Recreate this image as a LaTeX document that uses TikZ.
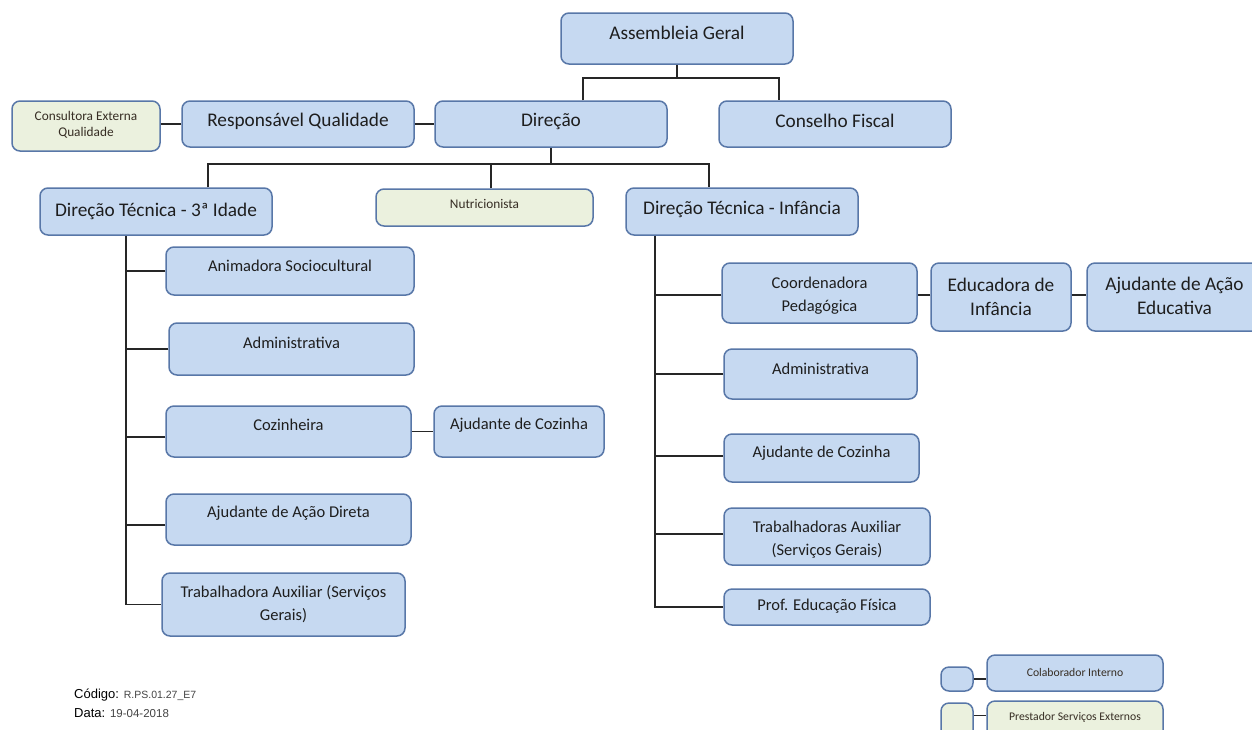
\documentclass[tikz,border=0pt]{standalone}
\usepackage{fontspec}
\setmainfont{Carlito}
\newfontfamily\footfont{Liberation Sans}
\usetikzlibrary{fit}

\definecolor{boxblue}{HTML}{C6D9F1}
\definecolor{boxgreen}{HTML}{EBF1DE}
\definecolor{boxedge}{HTML}{5877A8}
\definecolor{txtc}{HTML}{1E1E1E}
\definecolor{linec}{HTML}{262626}
\definecolor{footgray}{HTML}{444444}

\tikzset{
  orgbox/.style={draw=boxedge, fill=boxblue, line width=1.5pt, rounded corners=8pt, inner sep=0pt},
  extbox/.style={orgbox, fill=boxgreen},
  bigtxt/.style={font=\fontsize{19.3}{24}\selectfont, text=txtc, align=center, inner sep=0pt},
  midtxt/.style={font=\fontsize{16.5}{23}\selectfont, text=txtc, align=center, inner sep=0pt},
  smalltxt/.style={font=\fontsize{13.3}{16}\selectfont, text=txtc!85!brown, align=center, inner sep=0pt},
  tinytxt/.style={font=\fontsize{11.7}{16}\selectfont, text=txtc!85!brown, align=center, inner sep=0pt},
  link/.style={draw=linec, line width=1.4pt},
}

% box style, name, x1, y1, x2, y2, text style, text, text lift
\newcommand\orgunit[9]{%
  \node[#1, fit={(#3,#4) (#5,#6)}] (#2) {};
  \node[#7] (#2-t) at ([yshift=#9 pt]#2.center) {#8};
}

\begin{document}
\begin{tikzpicture}[x=1pt, y=-1pt]
\clip (0,0) rectangle (1252,729);
\fill[white] (0,0) rectangle (1252,729);

% top level
\orgunit{orgbox}{ag}{561}{13}{793}{64}{bigtxt}{Assembleia Geral}{5.5}
\orgunit{extbox}{ceq}{12}{101}{160}{151}{smalltxt}{Consultora Externa\\Qualidade}{1}
\orgunit{orgbox}{rq}{182}{101}{414}{147}{bigtxt}{Responsável Qualidade}{3}
\orgunit{orgbox}{dir}{435}{101}{667}{147}{bigtxt}{Direção}{3}
\orgunit{orgbox}{cf}{719}{101}{951}{147}{bigtxt}{Conselho Fiscal}{3}

% second level
\orgunit{orgbox}{dt3}{40}{188}{272}{235}{bigtxt}{Direção Técnica - 3ª Idade}{0}
\orgunit{extbox}{nut}{376}{189}{593}{226}{smalltxt}{Nutricionista}{3.5}
\orgunit{orgbox}{dti}{626}{188}{858}{235}{bigtxt}{Direção Técnica - Infância}{2}

% senior care branch
\orgunit{orgbox}{ani}{166}{247}{414}{295}{midtxt}{Animadora Sociocultural}{5}
\orgunit{orgbox}{adm}{169}{323}{414}{375}{midtxt}{Administrativa}{6}
\orgunit{orgbox}{coz}{166}{406}{411}{457}{midtxt}{Cozinheira}{6.5}
\orgunit{orgbox}{ajc}{434}{406}{604}{457}{midtxt}{Ajudante de Cozinha}{6.5}
\orgunit{orgbox}{aad}{166}{494}{411}{545}{midtxt}{Ajudante de Ação Direta}{6.5}
\orgunit{orgbox}{tra}{162}{573}{405}{636}{midtxt}{Trabalhadora Auxiliar (Serviços\\Gerais)}{0}

% childhood branch
\orgunit{orgbox}{cp}{722}{263}{917}{323}{midtxt}{Coordenadora\\Pedagógica}{-2.5}
\orgunit{orgbox}{edu}{931}{263}{1071}{331}{bigtxt}{Educadora de\\Infância}{0}
\orgunit{orgbox}{aae}{1087}{263}{1262}{331}{bigtxt}{Ajudante de Ação\\Educativa}{1.5}
\orgunit{orgbox}{admr}{724}{349}{917}{399}{midtxt}{Administrativa}{5}
\orgunit{orgbox}{ajcr}{724}{434}{919}{482}{midtxt}{Ajudante de Cozinha}{5}
\orgunit{orgbox}{trr}{724}{508}{930}{565}{midtxt}{Trabalhadoras Auxiliar\\(Serviços Gerais)}{-3}
\orgunit{orgbox}{pef}{724}{589}{930}{625}{midtxt}{Prof. Educação Física}{1}

% legend
\orgunit{orgbox}{lgb}{941}{667}{973}{691}{tinytxt}{}{0}
\orgunit{orgbox}{lgbt}{987}{655}{1163}{691}{tinytxt}{Colaborador Interno}{1}
\orgunit{extbox}{lgg}{941}{703}{973}{742}{tinytxt}{}{0}
\orgunit{extbox}{lggt}{987}{701}{1163}{742}{tinytxt}{Prestador Serviços Externos}{4}

% connectors: top
\coordinate (topbus) at (0,78);
\draw[link] ([xshift=32pt]dir.north) -- ([xshift=32pt]dir.north |- topbus)
  -- ([xshift=-56pt]cf.north |- topbus) -- ([xshift=-56pt]cf.north);
\draw[link] (ag.south) -- (ag.south |- topbus);
\draw[link] (rq.west) -- (rq.west -| ceq.east);
\draw[link] (rq.east) -- (dir.west);

% connectors: direction to technical directors
\coordinate (midbus) at (0,164);
\draw[link] (dir.south) -- (dir.south |- midbus);
\draw[link] ([xshift=52pt]dt3.north) -- ([xshift=52pt]dt3.north |- midbus)
  -- ([xshift=-33pt]dti.north |- midbus) -- ([xshift=-33pt]dti.north);
\draw[link] ([xshift=6.5pt]nut.north) -- ([xshift=6.5pt]nut.north |- midbus);

% senior care trunk
\draw[link] ([xshift=-30pt]dt3.south) |- (tra.west);
\coordinate (ltrunk) at ([xshift=-30pt]dt3.south);
\draw[link] (ani.west) -- (ani.west -| ltrunk);
\draw[link] (adm.west) -- (adm.west -| ltrunk);
\draw[link] ([yshift=-5.5pt]coz.west) -- ([yshift=-5.5pt]coz.west -| ltrunk);
\draw[link] ([yshift=-5.5pt]aad.west) -- ([yshift=-5.5pt]aad.west -| ltrunk);
\draw[link] (coz.east) -- (coz.east -| ajc.west);

% childhood trunk
\draw[link] ([xshift=-87pt]dti.south) |- (pef.west);
\coordinate (rtrunk) at ([xshift=-87pt]dti.south);
\draw[link] ([yshift=-2pt]cp.west) -- ([yshift=-2pt]cp.west -| rtrunk);
\draw[link] (admr.west) -- (admr.west -| rtrunk);
\draw[link] ([yshift=2pt]ajcr.west) -- ([yshift=2pt]ajcr.west -| rtrunk);
\draw[link] ([yshift=2.5pt]trr.west) -- ([yshift=2.5pt]trr.west -| rtrunk);
\draw[link] ([yshift=2pt]edu.west) -- ([yshift=2pt]edu.west -| cp.east);
\draw[link] ([yshift=2pt]edu.east) -- ([yshift=2pt]edu.east -| aae.west);

% legend connectors
\draw[link] (lgb.east) -- (lgb.east -| lgbt.west);
\draw[link] ([yshift=7pt]lgg.east) -- ([yshift=7pt]lgg.east -| lggt.west);

% document reference
\node[anchor=base west, inner sep=0pt, font=\footfont\fontsize{13}{14}\selectfont, text=black] (code) at (74,698)
  {Código: {\color{footgray}\fontsize{10.5}{12}\selectfont R.PS.01.27\_E7}};
\node[anchor=base west, inner sep=0pt, font=\footfont\fontsize{13}{14}\selectfont, text=black] (date) at (74,717)
  {Data: {\color{footgray}\fontsize{11.5}{12}\selectfont 19-04-2018}};
\end{tikzpicture}
\end{document}
